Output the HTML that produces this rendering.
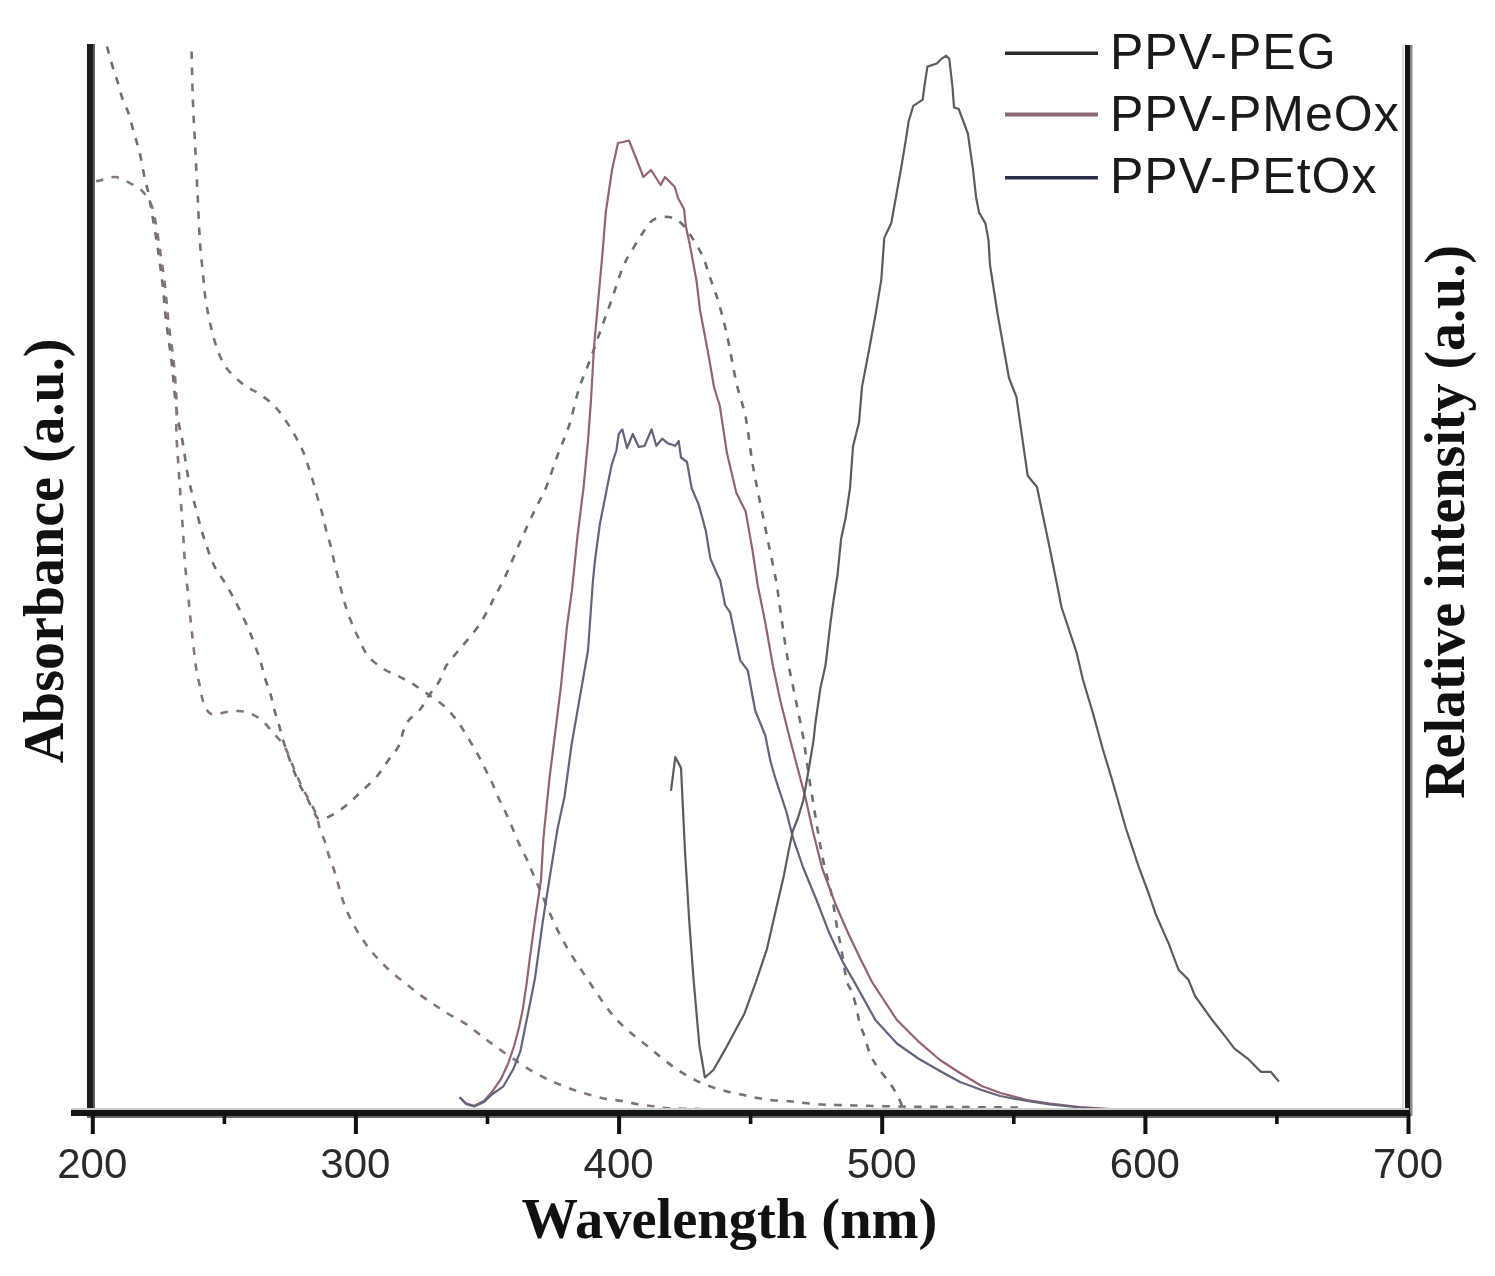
<!DOCTYPE html>
<html><head><meta charset="utf-8"><style>
html,body{margin:0;padding:0;background:#fff;width:1495px;height:1276px;overflow:hidden}
svg{display:block;will-change:transform}
.tl{font-family:"Liberation Sans",sans-serif;font-size:42px;fill:#2a2a2a}
.lg{font-family:"Liberation Sans",sans-serif;font-size:50px;fill:#1a1a1a;letter-spacing:1px}
.ax{font-family:"Liberation Serif",serif;font-weight:bold;font-size:56px;fill:#111}
.ax2{font-family:"Liberation Serif",serif;font-weight:bold;font-size:56px;fill:#111}
</style></head><body>
<svg width="1495" height="1276" viewBox="0 0 1495 1276">
<rect width="1495" height="1276" fill="#fff"/>
<g fill="none" stroke-linejoin="round" stroke-linecap="butt">
<path d="M191.6,51.5 C191.8,59.7 192.3,84.5 192.9,100.5 C193.5,116.5 194.4,131.9 195.2,147.6 C196.0,163.3 196.8,178.9 197.6,194.6 C198.4,210.3 199.0,228.5 199.9,241.6 C200.8,254.7 202.0,263.6 202.9,273.0 C203.8,282.4 204.4,290.5 205.4,298.0 C206.4,305.5 207.7,311.6 209.0,318.0 C210.3,324.4 211.7,330.4 213.3,336.3 C214.9,342.2 216.5,348.0 218.8,353.5 C221.2,359.0 223.2,364.0 227.4,369.2 C231.6,374.4 238.7,380.8 243.9,384.9 C249.1,388.9 253.8,390.1 258.8,393.5 C263.8,396.9 269.3,400.8 273.7,405.2 C278.1,409.6 281.8,414.9 285.4,420.1 C289.0,425.3 292.6,431.2 295.6,436.6 C298.6,442.0 301.2,447.1 303.4,452.3 C305.6,457.5 307.1,462.9 308.8,468.0 C310.5,473.1 312.0,477.9 313.5,483.0 C315.0,488.1 316.3,493.2 317.8,498.5 C319.3,503.8 321.1,509.1 322.5,514.5 C323.9,519.9 324.9,525.3 326.3,530.8 C327.7,536.3 329.7,542.0 331.0,547.3 C332.3,552.5 333.1,557.2 334.3,562.3 C335.5,567.4 336.8,572.5 338.1,577.8 C339.4,583.1 340.9,589.0 342.3,594.2 C343.7,599.4 344.9,603.8 346.5,608.8 C348.1,613.8 350.2,619.3 352.2,624.3 C354.2,629.2 356.1,633.2 358.7,638.5 C361.3,643.8 363.8,650.9 368.0,656.0 C372.2,661.1 378.4,665.5 383.7,669.0 C389.0,672.5 394.6,674.1 399.8,676.8 C405.0,679.5 410.1,682.2 415.0,685.3 C419.9,688.4 424.4,691.8 429.2,695.2 C434.0,698.6 439.2,701.6 443.8,705.8 C448.4,710.0 453.1,715.4 457.0,720.5 C460.9,725.6 464.0,731.3 467.3,736.7 C470.6,742.1 474.1,747.8 477.0,753.0 C479.9,758.2 482.2,763.2 484.7,768.0 C487.1,772.8 489.3,776.9 491.7,782.0 C494.1,787.1 496.4,793.5 498.8,798.6 C501.2,803.7 503.5,807.6 505.8,812.7 C508.1,817.8 510.5,823.5 512.9,829.0 C515.2,834.5 517.5,840.5 519.9,845.6 C522.2,850.7 524.6,854.6 527.0,859.7 C529.4,864.8 528.5,863.5 534.0,876.0 C539.5,888.5 551.0,917.7 560.0,935.0 C569.0,952.3 578.5,965.8 588.0,980.0 C597.5,994.2 606.8,1008.8 617.0,1020.0 C627.2,1031.2 641.1,1040.7 649.0,1047.4 C656.9,1054.1 659.4,1056.1 664.4,1060.0 C669.4,1063.9 674.0,1067.5 679.1,1070.8 C684.2,1074.1 689.9,1077.4 695.2,1080.1 C700.6,1082.8 705.9,1084.9 711.2,1086.8 C716.6,1088.7 722.0,1090.2 727.3,1091.5 C732.5,1092.8 737.6,1093.7 742.7,1094.8 C747.8,1095.9 752.7,1097.1 757.7,1098.0 C762.7,1098.9 767.4,1099.7 772.7,1100.2 C778.1,1100.8 784.4,1100.8 789.8,1101.3 C795.1,1101.8 799.4,1102.5 804.8,1103.0 C810.2,1103.5 816.6,1104.2 822.0,1104.5 C827.4,1104.8 831.7,1104.8 837.0,1105.0 C842.3,1105.2 843.5,1105.2 854.0,1105.5 C864.5,1105.8 884.0,1106.2 900.0,1106.5 C916.0,1106.8 930.0,1106.8 950.0,1107.0 C970.0,1107.2 1008.3,1107.4 1020.0,1107.5" stroke="#747474" stroke-width="2.6" stroke-dasharray="7.5 8.5"/>
<path d="M107.0,46.5 C108.0,50.0 111.1,61.7 112.9,67.6 C114.7,73.5 116.0,76.6 117.6,81.7 C119.2,86.8 120.5,93.1 122.3,98.2 C124.1,103.3 126.4,107.2 128.2,112.3 C130.0,117.4 131.3,123.3 132.9,128.8 C134.5,134.3 136.2,140.1 137.6,145.2 C139.0,150.3 139.9,153.8 141.1,159.3 C142.3,164.8 143.5,172.6 144.7,178.1 C145.9,183.6 147.1,186.8 148.2,192.2 C149.3,197.5 149.8,200.9 151.4,210.2 C153.0,219.5 155.8,235.3 157.7,247.9 C159.6,260.4 161.2,272.9 162.7,285.5 C164.1,298.1 164.9,310.6 166.4,323.2 C167.9,335.8 170.0,348.3 171.5,360.9 C173.0,373.4 174.0,388.3 175.2,398.5 C176.4,408.7 177.2,414.4 178.5,422.0 C179.8,429.6 181.5,435.5 183.0,443.9 C184.5,452.3 185.5,463.0 187.3,472.5 C189.1,482.0 191.3,490.8 193.9,501.0 C196.5,511.2 199.4,523.4 202.7,534.0 C206.0,544.6 210.0,556.7 213.7,564.7 C217.4,572.8 221.4,576.8 224.7,582.3 C228.0,587.8 230.5,592.1 233.4,597.6 C236.3,603.1 239.3,609.0 242.2,615.2 C245.1,621.4 248.1,627.7 251.0,635.0 C253.9,642.3 257.5,652.1 259.8,659.1 C262.1,666.1 263.0,671.6 264.7,677.2 C266.4,682.9 268.6,687.8 270.2,693.0 C271.8,698.2 272.6,703.4 274.0,708.6 C275.4,713.8 277.2,718.8 278.8,724.3 C280.4,729.8 281.9,736.3 283.5,741.5 C285.1,746.7 286.6,751.1 288.2,755.6 C289.8,760.1 291.1,763.5 292.9,768.2 C294.7,772.9 296.8,778.9 299.2,783.9 C301.6,788.9 304.4,793.0 307.0,798.0 C309.6,803.0 312.6,810.2 314.8,813.7 C317.0,817.2 317.1,818.8 320.0,819.0 C322.9,819.2 327.4,817.7 332.0,815.2 C336.6,812.7 342.9,808.2 347.8,804.2 C352.8,800.2 356.9,795.5 361.7,791.0 C366.5,786.5 372.0,782.1 376.4,777.0 C380.8,771.9 384.5,765.7 388.2,760.5 C391.9,755.3 396.2,750.8 398.8,745.8 C401.4,740.8 401.8,734.8 403.5,730.5 C405.2,726.2 406.2,723.6 409.0,720.0 C411.8,716.4 417.1,713.1 420.5,709.0 C423.9,704.9 426.1,699.8 429.2,695.2 C432.3,690.6 436.2,686.5 439.1,681.5 C442.0,676.5 443.7,670.0 446.6,665.2 C449.5,660.4 453.2,656.9 456.6,652.7 C460.1,648.5 463.5,644.7 467.3,640.1 C471.1,635.5 475.8,630.0 479.2,625.0 C482.6,620.0 485.5,614.5 488.0,610.0 C490.5,605.5 491.0,603.8 494.0,598.0 C497.0,592.2 501.6,584.3 505.9,575.0 C510.2,565.7 515.3,552.8 520.0,542.2 C524.7,531.6 529.7,520.6 534.0,511.6 C538.3,502.6 541.9,497.4 545.8,488.0 C549.7,478.6 553.7,465.8 557.6,455.2 C561.5,444.6 565.9,435.6 569.4,424.6 C572.9,413.6 575.3,400.4 578.8,389.4 C582.3,378.4 587.0,368.4 590.5,358.8 C594.0,349.2 596.7,341.3 600.0,332.0 C603.3,322.7 606.7,313.8 610.5,303.0 C614.3,292.2 619.3,275.9 623.0,267.0 C626.7,258.1 629.3,255.0 632.5,249.5 C635.7,244.0 638.6,238.9 642.0,234.0 C645.4,229.1 648.6,222.8 653.0,220.0 C657.4,217.2 663.8,216.5 668.5,217.0 C673.2,217.5 676.8,219.2 681.0,223.0 C685.2,226.8 689.9,234.3 693.6,240.0 C697.3,245.7 700.4,251.2 703.0,257.0 C705.6,262.8 707.2,269.3 709.0,274.6 C710.8,279.9 712.4,284.0 714.0,288.7 C715.6,293.4 716.5,295.1 718.7,302.8 C720.9,310.5 724.1,321.8 727.0,335.0 C729.9,348.2 733.2,368.5 736.3,382.3 C739.4,396.1 743.0,403.9 745.7,417.6 C748.4,431.3 750.0,448.9 752.7,464.6 C755.4,480.3 759.2,497.9 762.0,511.6 C764.8,525.3 766.8,535.2 769.2,546.9 C771.6,558.6 774.4,571.5 776.3,582.0 C778.1,592.5 778.4,597.0 780.3,610.0 C782.2,623.0 785.3,645.6 787.8,660.3 C790.3,675.0 792.9,685.5 795.4,698.0 C797.9,710.5 801.0,725.1 802.9,735.5 C804.8,745.9 805.4,752.2 806.6,760.6 C807.9,769.0 809.2,778.3 810.4,785.7 C811.6,793.1 812.3,796.9 813.6,805.0 C814.9,813.1 816.6,824.2 818.3,834.1 C820.0,844.0 821.8,854.2 824.0,864.2 C826.2,874.2 829.3,883.6 831.5,894.3 C833.7,905.0 835.6,919.4 837.2,928.2 C838.8,937.0 839.4,938.4 841.0,947.0 C842.6,955.6 844.8,972.5 846.6,980.0 C848.4,987.5 850.3,987.5 851.9,992.0 C853.5,996.5 855.0,1002.0 856.2,1007.0 C857.5,1012.0 858.0,1017.0 859.4,1022.0 C860.8,1027.0 862.9,1031.7 864.7,1037.0 C866.5,1042.3 867.8,1048.8 870.0,1054.0 C872.2,1059.2 874.6,1062.8 878.1,1068.0 C881.6,1073.2 887.7,1079.8 891.2,1085.0 C894.7,1090.2 897.4,1095.6 899.2,1099.1 C901.0,1102.6 901.5,1104.8 902.0,1106.0" stroke="#6e6e6e" stroke-width="2.6" stroke-dasharray="7.5 8.5"/>
<path d="M96.0,181.0 C96.7,180.9 96.8,181.2 100.0,180.5 C103.2,179.8 110.4,176.6 115.3,177.0 C120.2,177.4 125.1,180.7 129.4,182.8 C133.7,185.0 138.0,187.2 141.1,189.9 C144.2,192.7 146.1,195.6 148.2,199.3 C150.3,203.0 151.6,203.9 153.5,212.0 C155.4,220.1 157.8,235.8 159.7,248.0 C161.6,260.2 163.4,273.0 164.9,285.5 C166.4,298.0 167.2,310.4 168.6,323.0 C170.0,335.6 172.3,348.2 173.6,361.0 C174.9,373.8 176.0,388.0 176.5,400.0 C177.0,412.0 176.1,422.0 176.4,433.0 C176.7,444.0 177.8,454.9 178.5,465.9 C179.2,476.9 179.9,487.8 180.7,498.8 C181.4,509.8 182.3,520.8 183.0,531.8 C183.7,542.8 184.2,553.7 185.1,564.7 C186.0,575.7 187.3,586.6 188.4,597.6 C189.5,608.6 190.4,618.9 191.7,630.6 C193.0,642.3 194.8,658.8 196.1,667.9 C197.4,677.0 198.5,679.6 199.6,685.0 C200.7,690.4 201.5,695.8 202.7,700.0 C203.9,704.2 205.3,707.6 207.0,710.0 C208.7,712.4 209.4,714.2 213.0,714.5 C216.6,714.8 223.4,712.2 228.6,711.7 C233.8,711.2 239.1,710.5 244.3,711.7 C249.5,712.9 255.3,715.4 260.0,718.8 C264.7,722.2 268.5,727.5 272.5,732.0 C276.5,736.5 281.1,741.0 284.0,745.5 C286.9,750.0 288.2,754.8 290.0,759.0 C291.8,763.2 293.1,766.5 295.0,771.0 C296.9,775.5 299.2,781.2 301.5,786.0 C303.8,790.8 306.5,795.2 309.0,800.0 C311.5,804.8 314.8,810.4 316.5,815.0 C318.2,819.6 318.1,823.3 319.5,827.8 C320.9,832.3 323.4,837.2 325.0,841.9 C326.6,846.6 327.3,850.8 329.0,856.0 C330.7,861.2 332.2,864.2 335.0,873.0 C337.8,881.8 341.3,897.8 346.0,909.0 C350.7,920.2 356.5,930.5 363.0,940.0 C369.5,949.5 375.7,957.0 385.0,966.0 C394.3,975.0 408.7,986.2 419.0,994.0 C429.3,1001.8 439.4,1008.1 447.0,1013.0 C454.6,1017.9 459.2,1019.7 464.6,1023.2 C470.0,1026.7 474.1,1030.3 479.2,1034.1 C484.3,1037.9 487.3,1040.5 495.0,1046.0 C502.7,1051.5 517.1,1061.7 525.3,1066.9 C533.5,1072.2 538.4,1074.6 544.0,1077.5 C549.6,1080.4 553.6,1082.0 558.7,1084.1 C563.8,1086.2 569.7,1088.4 574.8,1090.2 C579.9,1092.0 584.4,1093.3 589.5,1094.8 C594.6,1096.2 600.2,1097.9 605.6,1098.9 C611.0,1099.9 616.2,1100.0 621.6,1100.9 C627.0,1101.8 632.4,1103.3 637.7,1104.2 C643.1,1105.1 648.6,1105.5 653.7,1106.2 C658.8,1106.9 660.7,1107.7 668.4,1108.2 C676.1,1108.7 694.7,1108.9 700.0,1109.0" stroke="#857479" stroke-width="2.6" stroke-dasharray="7.5 8.5"/>
<path d="M459.7,1097.3 L465.8,1103.3 L474.3,1105.8 L484.0,1100.9 L492.5,1091.2 L501.0,1079.0 L508.3,1063.2 L514.4,1045.0 L519.2,1026.8 L522.9,1008.6 L526.5,984.3 L529.6,960.0 L535.0,920.0 L541.0,880.0 L543.4,838.5 L549.3,779.8 L555.2,732.8 L561.0,685.8 L566.9,627.0 L572.0,590.0 L577.6,535.0 L583.5,488.0 L588.0,441.0 L591.0,400.0 L594.0,347.0 L597.8,305.0 L602.7,251.0 L605.8,212.0 L612.0,170.0 L618.0,143.0 L623.0,142.0 L629.0,140.5 L635.6,157.0 L643.4,177.0 L651.0,170.0 L660.7,185.0 L665.0,177.0 L674.8,187.0 L678.0,198.0 L684.0,209.0 L685.8,226.0 L690.5,248.0 L696.7,282.0 L700.0,310.0 L709.2,358.8 L714.0,387.0 L719.8,405.8 L726.9,452.8 L736.3,492.8 L745.7,511.6 L752.7,551.6 L757.7,585.0 L765.3,622.7 L772.8,665.3 L780.3,700.4 L787.8,730.5 L797.6,768.2 L805.2,796.5 L812.7,830.3 L822.1,868.0 L835.3,903.7 L848.4,933.8 L860.0,958.0 L872.0,982.0 L896.9,1020.0 L918.3,1041.3 L940.0,1060.0 L960.0,1073.0 L981.7,1086.0 L1000.5,1093.0 L1027.0,1100.0 L1050.0,1103.5 L1080.0,1107.0 L1111.0,1109.0" stroke="#946270" stroke-width="2.2"/>
<path d="M459.7,1097.3 L466.0,1104.0 L474.3,1106.5 L484.0,1102.0 L492.5,1094.0 L503.4,1086.3 L513.2,1069.3 L520.4,1051.1 L525.3,1026.8 L530.2,1002.5 L535.0,978.2 L537.5,960.0 L543.0,920.0 L549.3,880.0 L557.5,829.0 L564.6,796.2 L571.6,744.5 L579.8,697.5 L588.0,650.5 L593.0,580.0 L595.2,558.6 L600.0,523.4 L607.0,488.0 L611.7,464.6 L616.4,450.5 L618.7,434.0 L622.3,429.3 L627.0,448.0 L632.8,434.0 L638.7,447.0 L644.6,445.8 L651.6,429.3 L656.3,445.8 L662.2,438.7 L668.0,443.4 L675.2,445.8 L678.7,441.0 L681.0,457.5 L687.0,462.0 L691.6,488.0 L698.7,504.6 L705.7,530.4 L710.4,558.6 L717.5,575.0 L720.1,580.0 L725.1,605.0 L730.2,612.7 L740.2,660.3 L747.7,670.3 L755.2,710.5 L765.3,735.5 L770.3,760.6 L775.3,778.2 L786.3,811.5 L793.0,837.9 L803.3,868.0 L816.5,900.0 L829.6,933.8 L842.8,962.0 L854.0,981.4 L875.4,1020.0 L896.9,1043.5 L918.3,1058.5 L940.0,1071.0 L960.0,1082.0 L981.7,1090.0 L1000.0,1096.0 L1027.0,1101.0 L1050.0,1104.5 L1080.0,1107.5 L1111.0,1109.5" stroke="#62647c" stroke-width="2.2"/>
<path d="M671.0,790.8 L675.3,757.0 L681.0,768.0 L685.1,852.9 L689.4,923.4 L693.6,979.8 L699.3,1044.7 L704.9,1077.5 L713.4,1070.0 L724.6,1050.4 L744.4,1013.7 L755.7,982.7 L767.0,948.8 L775.4,912.0 L783.9,875.4 L788.2,852.9 L793.0,830.3 L797.6,819.0 L803.3,800.2 L808.9,768.2 L813.6,740.0 L815.4,723.0 L820.4,687.9 L825.5,665.3 L830.5,622.7 L833.6,600.0 L837.5,575.0 L841.1,538.8 L845.6,518.0 L850.0,488.2 L853.0,446.5 L859.0,422.6 L862.0,386.9 L869.4,348.0 L875.4,315.4 L881.3,279.6 L884.3,237.9 L891.3,223.0 L896.0,196.7 L900.8,170.0 L905.5,142.0 L908.6,121.5 L913.3,105.8 L922.7,99.6 L924.3,87.0 L927.4,66.6 L936.8,63.5 L941.5,58.8 L946.2,55.7 L949.3,58.8 L952.5,87.0 L954.0,107.4 L958.7,109.0 L963.4,121.5 L968.0,134.0 L969.7,146.6 L972.9,168.5 L976.0,196.7 L979.0,212.4 L985.4,223.4 L988.5,240.0 L990.0,265.0 L997.6,314.0 L1009.0,378.0 L1016.4,396.8 L1027.7,475.8 L1037.0,487.0 L1050.3,551.0 L1061.6,607.5 L1076.6,652.7 L1083.0,680.0 L1092.9,713.0 L1102.8,749.0 L1112.7,782.0 L1125.8,828.0 L1139.0,867.7 L1148.9,894.0 L1155.5,913.7 L1168.6,943.4 L1178.5,969.7 L1188.4,979.6 L1195.0,996.0 L1211.4,1019.0 L1224.6,1035.6 L1234.5,1048.7 L1247.7,1058.6 L1260.8,1071.8 L1270.7,1071.8 L1279.0,1081.6" stroke="#5c5c5c" stroke-width="2.2"/>
</g>
<!-- axes -->
<rect x="87" y="44" width="6" height="1072" fill="#1c1c1c"/>
<rect x="93" y="44" width="2" height="1066" fill="#606060"/>
<rect x="1402" y="45" width="2" height="1063" fill="#dcdcdc"/>
<rect x="1405" y="45" width="5" height="1071" fill="#141414"/>
<rect x="1410" y="45" width="2.5" height="1071" fill="#8a8a8a"/>
<rect x="71" y="1108" width="1338" height="2" fill="#cbcbcb"/>
<rect x="71" y="1110" width="1339" height="6" fill="#141414"/>
<rect x="87" y="1116" width="1323" height="2" fill="#6a6a6a"/>
<rect x="90.8" y="1113" width="4" height="21" fill="#111"/><rect x="353.9" y="1113" width="4" height="21" fill="#111"/><rect x="617.1" y="1113" width="4" height="21" fill="#111"/><rect x="880.2" y="1113" width="4" height="21" fill="#111"/><rect x="1143.4" y="1113" width="4" height="21" fill="#111"/><rect x="1406.5" y="1113" width="4" height="21" fill="#111"/><rect x="222.6" y="1113" width="3.6" height="11" fill="#111"/><rect x="485.7" y="1113" width="3.6" height="11" fill="#111"/><rect x="748.8" y="1113" width="3.6" height="11" fill="#111"/><rect x="1012.0" y="1113" width="3.6" height="11" fill="#111"/><rect x="1275.1" y="1113" width="3.6" height="11" fill="#111"/>
<text x="92.3" y="1178.3" text-anchor="middle" class="tl">200</text><text x="355.4" y="1178.3" text-anchor="middle" class="tl">300</text><text x="618.6" y="1178.3" text-anchor="middle" class="tl">400</text><text x="881.7" y="1178.3" text-anchor="middle" class="tl">500</text><text x="1144.9" y="1178.3" text-anchor="middle" class="tl">600</text><text x="1408.0" y="1178.3" text-anchor="middle" class="tl">700</text>
<!-- legend -->
<rect x="1005" y="51.5" width="93" height="3.5" fill="#2a2a2a"/>
<rect x="1005" y="112.5" width="93" height="4" fill="#8a6a70"/>
<rect x="1005" y="176" width="93" height="3.5" fill="#2c2f4a"/>
<text x="1110" y="69" class="lg">PPV-PEG</text>
<text x="1110" y="131" class="lg">PPV-PMeOx</text>
<text x="1110" y="193.3" class="lg">PPV-PEtOx</text>
<text x="729.5" y="1237.8" text-anchor="middle" class="ax" style="font-size:56.5px">Wavelength (nm)</text>
<text transform="translate(63.2,551) rotate(-90)" text-anchor="middle" class="ax">Absorbance (a.u.)</text>
<text transform="translate(1463.5,522) rotate(-90)" text-anchor="middle" class="ax2">Relative intensity (a.u.)</text>
</svg>
</body></html>
